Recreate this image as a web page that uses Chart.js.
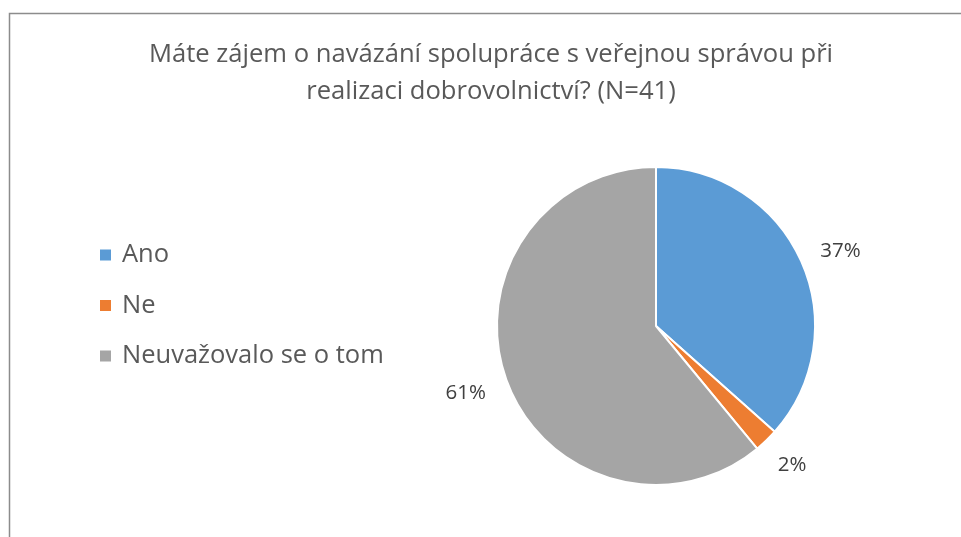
<!DOCTYPE html>
<html>
<head>
<meta charset="utf-8">
<script src="https://cdn.jsdelivr.net/npm/chart.js@4"></script>
<style>
  html, body { margin: 0; padding: 0; background: #fff; }
  #wrap { position: relative; width: 961px; height: 537px; }
</style>
</head>
<body>
<div id="wrap"><canvas id="pieChart" width="961" height="537"></canvas></div>
<script>
const categories = ["Ano", "Ne", "Neuvažovalo se o tom"];
const counts = [15, 1, 25];
const percentLabels = ["37%", "2%", "61%"];
const colors = ["#5B9BD5", "#ED7D31", "#A5A5A5"];
const titleLines = ["Máte zájem o navázání spolupráce s veřejnou správou při", "realizaci dobrovolnictví? (N=41)"];

const fontFamily = "'Open Sans', sans-serif";

const frame = {
  id: "frame",
  beforeDraw(chart) {
    const ctx = chart.ctx;
    ctx.save();
    ctx.strokeStyle = "#8c8c8c";
    ctx.lineWidth = 1.5;
    ctx.beginPath();
    ctx.moveTo(9.5, 537);
    ctx.lineTo(9.5, 13.5);
    ctx.lineTo(961, 13.5);
    ctx.stroke();
    ctx.restore();
  },
};

const decorations = {
  id: "decorations",
  afterDraw(chart) {
    const ctx = chart.ctx;
    ctx.save();

    // title
    ctx.fillStyle = "#595959";
    ctx.font = "25.6px " + fontFamily;
    ctx.textAlign = "center";
    ctx.textBaseline = "middle";
    ctx.fillText(titleLines[0], 491, 55);
    ctx.fillText(titleLines[1], 491, 92);

    // legend
    ctx.textAlign = "left";
    ctx.font = "25.5px " + fontFamily;
    chart.data.labels.forEach((label, i) => {
      const y = 255 + i * 50.5;
      ctx.fillStyle = colors[i];
      ctx.fillRect(100, y - 5.5, 11, 11);
      ctx.fillStyle = "#595959";
      ctx.fillText(label, 122, y);
    });

    // data labels just outside the slice ends
    ctx.fillStyle = "#404040";
    ctx.font = "20.5px " + fontFamily;
    ctx.textAlign = "center";
    chart.getDatasetMeta(0).data.forEach((arc, i) => {
      const mid = (arc.startAngle + arc.endAngle) / 2;
      const cos = Math.cos(mid), sin = Math.sin(mid);
      const r = arc.outerRadius + 23;
      const w = ctx.measureText(percentLabels[i]).width;
      const x = arc.x + cos * r + cos * w / 2;
      const y = arc.y + sin * r + sin * 8 + 2.5;
      ctx.fillText(percentLabels[i], x, y);
    });
    ctx.restore();
  },
};

new Chart(document.getElementById("pieChart"), {
  type: "pie",
  data: {
    labels: categories,
    datasets: [{ data: counts, backgroundColor: colors, borderColor: "#ffffff", borderWidth: 2, hoverOffset: 0 }],
  },
  options: {
    responsive: false,
    animation: false,
    layout: { padding: { left: 496, right: 145, top: 166, bottom: 51 } },
    plugins: { legend: { display: false }, tooltip: { enabled: false } },
  },
  plugins: [frame, decorations],
});
</script>
</body>
</html>
